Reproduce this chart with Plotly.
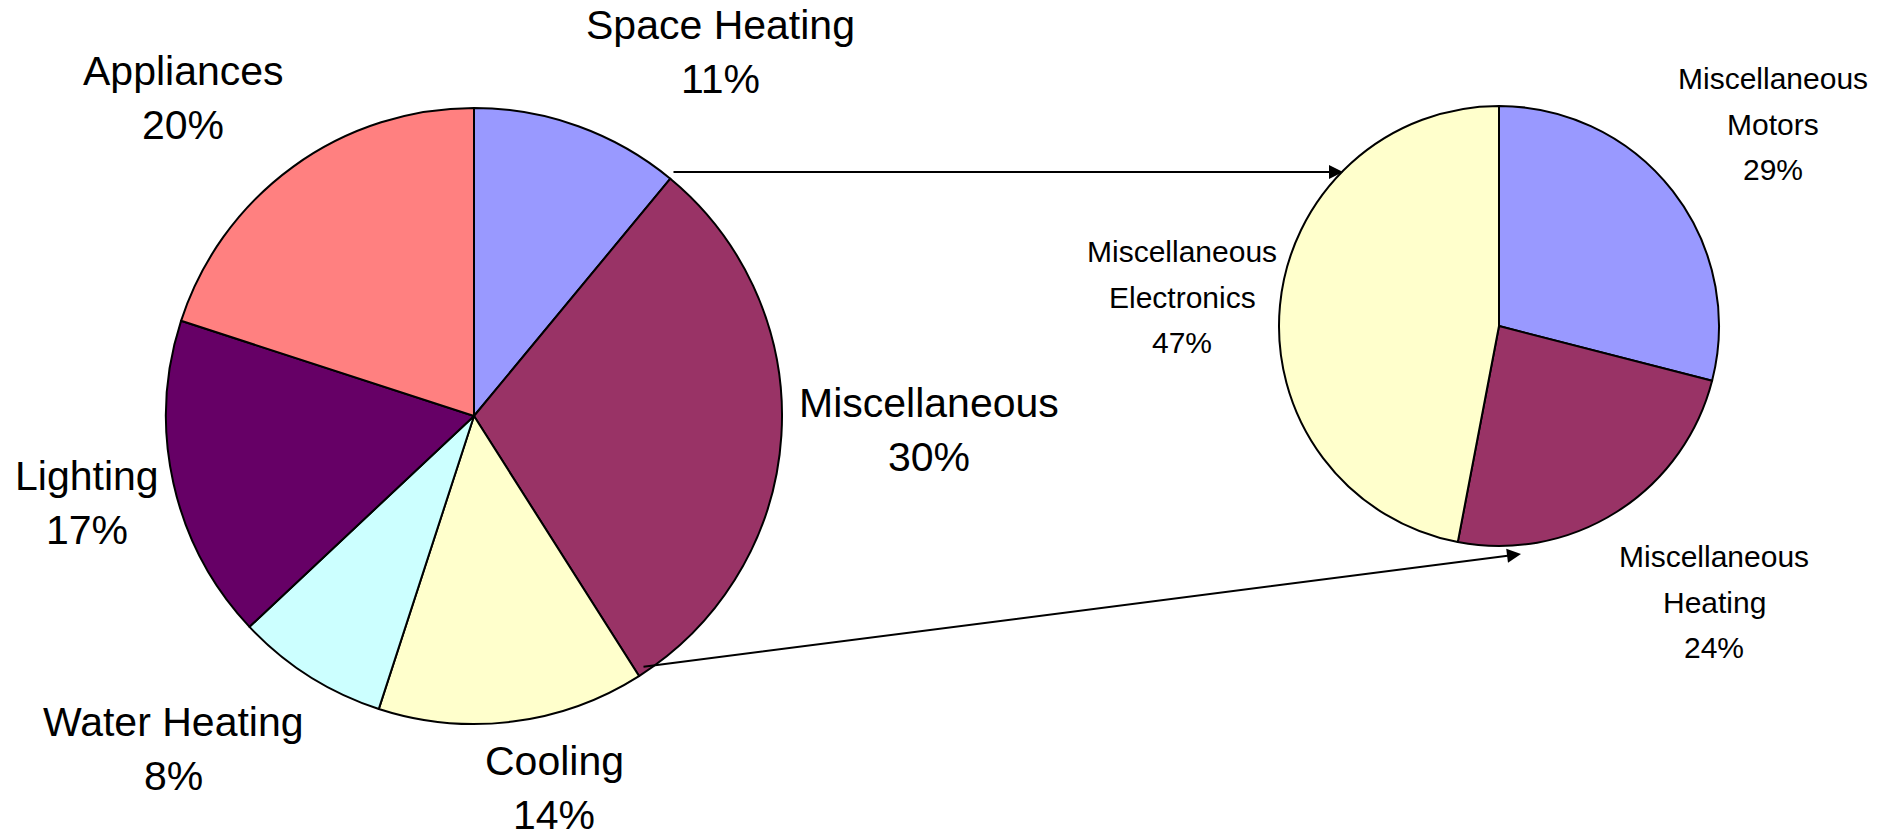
import plotly.graph_objects as go

# The page body has an 8px margin, so the figure is drawn 8px in from the
# top-left corner; positions below are given in screen pixels and shifted.
OFF = 8
W, H = 1890 - OFF, 833 - OFF

# ---- data ----
main_labels = ["Space Heating", "Miscellaneous", "Cooling", "Water Heating", "Lighting", "Appliances"]
main_values = [11, 30, 14, 8, 17, 20]
main_colors = ["#9999FF", "#993366", "#FFFFCC", "#CCFFFF", "#660066", "#FF8080"]

sub_labels = ["Miscellaneous Motors", "Miscellaneous Heating", "Miscellaneous Electronics"]
sub_values = [29, 24, 47]
sub_colors = ["#9999FF", "#993366", "#FFFFCC"]

# ---- layout helpers ----
def px(x):
    return (x - OFF) / W

def py(y):
    return 1 - (y - OFF) / H

FONT = "Liberation Sans, Arial, sans-serif"

# left pie: centre (474, 416), radius 308
lc, lr = (474, 416), 308
# right pie: centre (1499, 326), radius 220
rc, rr = (1499, 326), 220

fig = go.Figure()
fig.add_trace(go.Pie(
    labels=main_labels, values=main_values, sort=False, direction="clockwise", rotation=0,
    marker=dict(colors=main_colors, line=dict(color="black", width=2)),
    textinfo="none", hoverinfo="label+percent", showlegend=False,
    domain=dict(x=[px(lc[0] - lr), px(lc[0] + lr)], y=[py(lc[1] + lr), py(lc[1] - lr)]),
))
fig.add_trace(go.Pie(
    labels=sub_labels, values=sub_values, sort=False, direction="clockwise", rotation=0,
    marker=dict(colors=sub_colors, line=dict(color="black", width=2)),
    textinfo="none", hoverinfo="label+percent", showlegend=False,
    domain=dict(x=[px(rc[0] - rr), px(rc[0] + rr)], y=[py(rc[1] + rr), py(rc[1] - rr)]),
))

annotations = []

def add_block(lines, cx, baseline, pitch, size):
    for i, t in enumerate(lines):
        b = baseline + i * pitch
        annotations.append(dict(
            text=t, x=px(cx), y=py(b - 0.35 * size), xref="paper", yref="paper",
            xanchor="center", yanchor="middle", showarrow=False,
            font=dict(family=FONT, size=size, color="black"),
        ))

# left labels: (centre x, first baseline)
main_pos = [(720, 39), (929, 417), (554, 775), (173, 736), (87, 490), (183, 85)]
for lab, val, (cx, b) in zip(main_labels, main_values, main_pos):
    add_block([lab, f"{val}%"], cx, b, 54, 41)

sub_pos = [(1773, 89), (1714, 567), (1182, 262)]
for lab, val, (cx, b) in zip(sub_labels, sub_values, sub_pos):
    first, rest = lab.split(" ", 1)
    add_block([first, rest, f"{val}%"], cx, b, 45.5, 30)

# connector arrows (tip, tail in pixels)
arrows = [((1343, 172), (672, 172)), ((1521, 554), (642, 667))]
for (tx, ty), (sx, sy) in arrows:
    annotations.append(dict(
        text="", x=px(tx), y=py(ty), xref="paper", yref="paper",
        ax=sx - tx, ay=sy - ty, axref="pixel", ayref="pixel",
        showarrow=True, arrowhead=2, arrowsize=1.4, arrowwidth=2, arrowcolor="black",
        standoff=0, startstandoff=0,
    ))

fig.update_layout(
    width=W, height=H, margin=dict(l=0, r=0, t=0, b=0),
    paper_bgcolor="white", plot_bgcolor="white",
    annotations=annotations,
)

fig.write_html("out.html")
